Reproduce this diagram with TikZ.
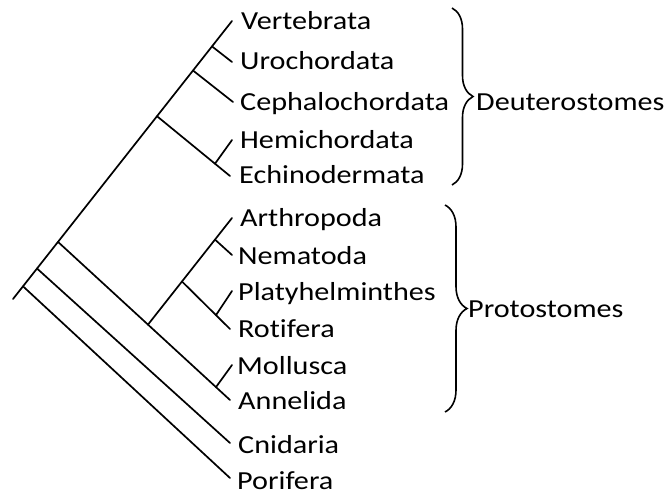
\documentclass[tikz,border=0pt]{standalone}
\usepackage{fontspec}
\usepackage{graphicx}
\setmainfont[Ligatures=CommonOff]{Carlito}
\usetikzlibrary{decorations.pathreplacing}
\newcommand{\wlbl}[1]{\scalebox{1.16}[1]{#1}}
\tikzset{
  branch/.style={line width=1.7pt, line cap=round, line join=round},
  taxon/.style={inner sep=0pt, anchor=base west, font=\fontsize{26}{30}\selectfont},
  bracebar/.style={line width=1.6pt, decorate, decoration={brace, amplitude=#1}},
}
\begin{document}
\begin{tikzpicture}[x=1pt, y=-1pt]
\useasboundingbox (0,0) rectangle (671,495);
% backbone points
\coordinate (root) at (13,299);
\coordinate (tV) at (232,21);
\coordinate (nP) at (23,286.3);
\coordinate (nC) at (37,268.5);
\coordinate (nPD) at (58,241.9);
\coordinate (nD) at (157,116.2);
\coordinate (nCe) at (193,70.5);
\coordinate (nVU) at (212,46.4);
% deuterostome tips
\coordinate (tU) at (232,62);
\coordinate (tCe) at (233,102);
\coordinate (nHE) at (215,163.7);
\coordinate (tH) at (232,140);
\coordinate (tE) at (230,176);
% protostomes
\coordinate (tAn) at (230,400);
\coordinate (nPr) at (148,324.6);
\coordinate (nMA) at (216,387.1);
\coordinate (tM) at (232,365);
\coordinate (tA) at (232,218);
\coordinate (nPRo) at (182,281.5);
\coordinate (nAN) at (215,239.6);
\coordinate (tN) at (232,255);
\coordinate (tR) at (230,329);
\coordinate (nPlR) at (216,315.1);
\coordinate (tPl) at (232,291);
% outgroups
\coordinate (tCn) at (230,443);
\coordinate (tPo) at (230,478);

\draw[branch] (root) -- (tV);
\draw[branch] (nVU) -- (tU);
\draw[branch] (nCe) -- (tCe);
\draw[branch] (nD) -- (tE);
\draw[branch] (nHE) -- (tH);
\draw[branch] (nPD) -- (tAn);
\draw[branch] (nMA) -- (tM);
\draw[branch] (nPr) -- (tA);
\draw[branch] (nAN) -- (tN);
\draw[branch] (nPRo) -- (tR);
\draw[branch] (nPlR) -- (tPl);
\draw[branch] (nC) -- (tCn);
\draw[branch] (nP) -- (tPo);

\node[taxon] (lV) at (241,30) {\wlbl{Vertebrata}};
\node[taxon] (lU) at (240,70) {\wlbl{Urochordata}};
\node[taxon] (lCe) at (240,110) {\wlbl{Cephalochordata}};
\node[taxon] (lH) at (240,148) {\wlbl{Hemichordata}};
\node[taxon] (lE) at (239,183) {\wlbl{Echinodermata}};
\node[taxon] (lA) at (240,226) {\wlbl{Arthropoda}};
\node[taxon] (lN) at (238,264) {\wlbl{Nematoda}};
\node[taxon] (lPl) at (238,300) {\wlbl{Platyhelminthes}};
\node[taxon] (lR) at (238,337) {\wlbl{Rotifera}};
\node[taxon] (lM) at (237,374) {\wlbl{Mollusca}};
\node[taxon] (lAn) at (238,409) {\wlbl{Annelida}};
\node[taxon] (lCn) at (238,453) {\wlbl{Cnidaria}};
\node[taxon] (lPo) at (237,489) {\wlbl{Porifera}};

\coordinate (dTop) at (452,8);
\coordinate (dBot) at (452,185);
\draw[bracebar=21pt] (dTop) -- (dBot);
\node[taxon] (lDeu) at (476,110) {\wlbl{Deuterostomes}};

\coordinate (pTop) at (445,205);
\coordinate (pBot) at (445,412);
\draw[bracebar=22pt] (pTop) -- (pBot);
\node[taxon] (lPro) at (468,317) {\wlbl{Protostomes}};
\end{tikzpicture}
\end{document}
